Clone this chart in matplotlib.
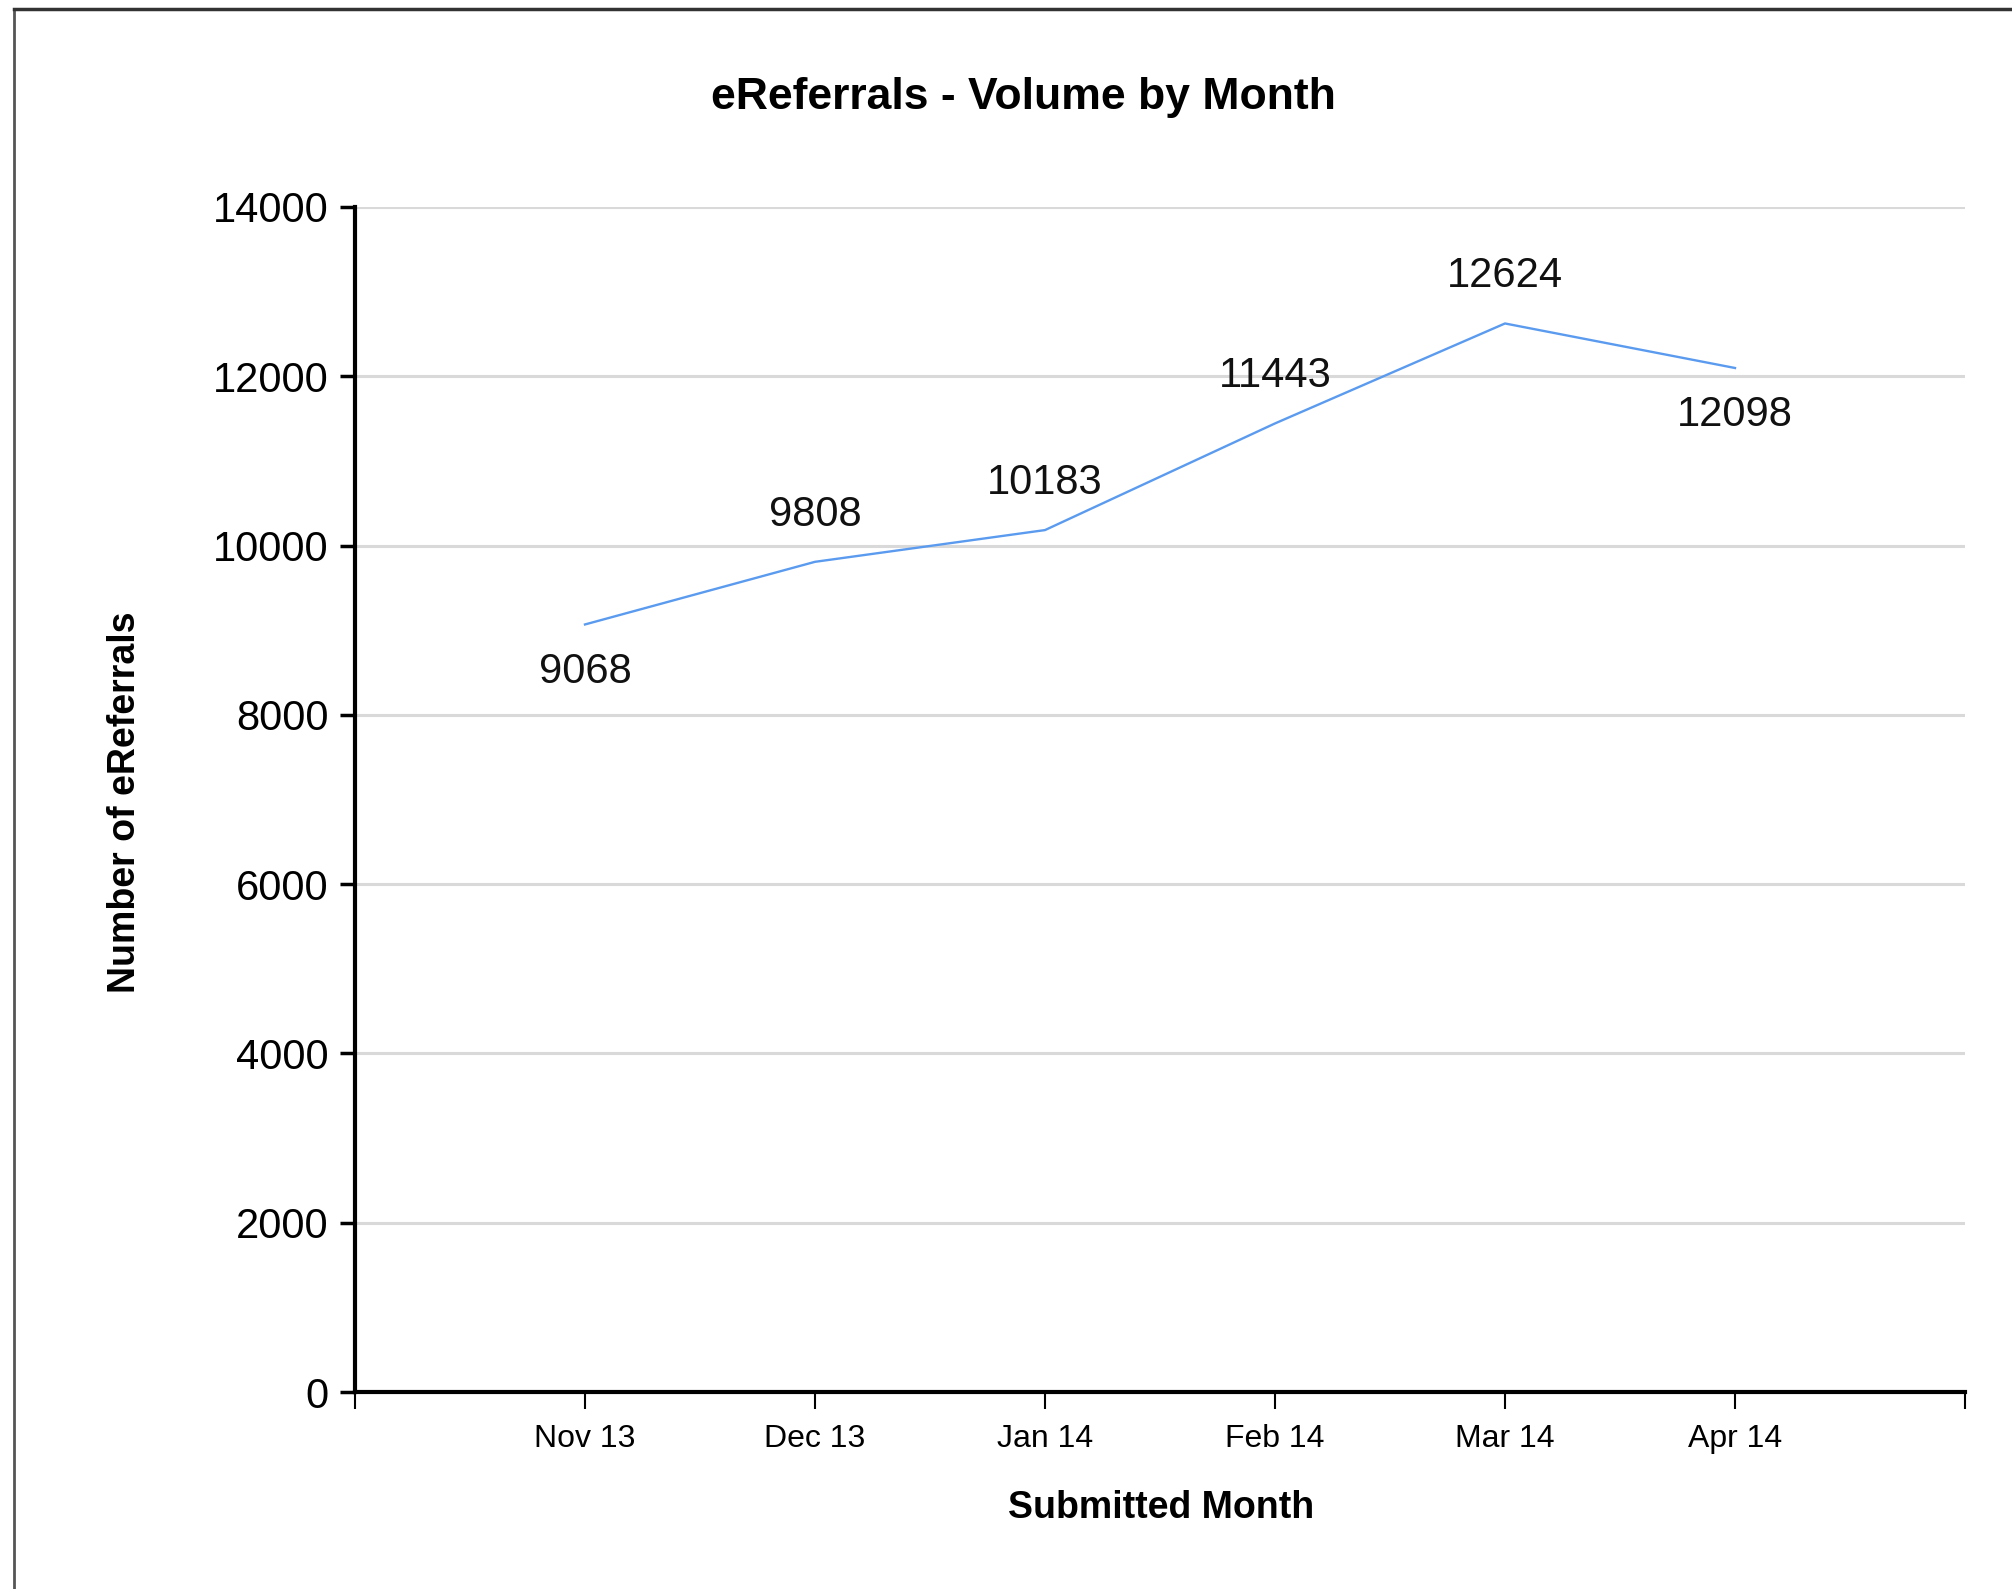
import matplotlib
matplotlib.use("Agg")
import matplotlib.pyplot as plt
from matplotlib.lines import Line2D
import numpy as np

months = ["Nov 13", "Dec 13", "Jan 14", "Feb 14", "Mar 14", "Apr 14"]
volumes = [9068, 9808, 10183, 11443, 12624, 12098]
y_ticks = [0, 2000, 4000, 6000, 8000, 10000, 12000, 14000]

# which value labels sit under the line instead of over it
below = [True, False, False, False, False, True]

plt.rcParams['font.family'] = ['Liberation Sans', 'DejaVu Sans']

W, H = 2012, 1589
fig = plt.figure(figsize=(W / 100, H / 100), dpi=100)
# axes box in pixels: left 355, right 1965, top 207, bottom 1392
ax = fig.add_axes([355 / W, 1 - 1392 / H, (1965 - 355) / W, (1392 - 207) / H])

x = np.arange(1, len(months) + 1)
ax.plot(x, volumes, color='#5b9bef', lw=1.7)

for xi, v, b in zip(x, volumes, below):
    off = -34 if b else 34
    ax.annotate(str(v), (xi, v), xytext=(0, off), textcoords='offset points',
                ha='center', va='center', fontsize=30, color='#111111')

ax.set_xlim(0, len(months) + 1)
ax.set_ylim(0, 14000)
ax.set_yticks(y_ticks)
ax.set_yticklabels([str(t) for t in y_ticks], fontsize=30)
ax.set_xticks(np.arange(0, len(months) + 2))
ax.set_xticklabels([""] + months + [""], fontsize=23)

ax.grid(axis='y', color='#d9d9d9', lw=2.2)
ax.set_axisbelow(True)
for s in ['top', 'right']:
    ax.spines[s].set_visible(False)
ax.spines['left'].set_linewidth(3)
ax.spines['bottom'].set_linewidth(3)
ax.tick_params(axis='y', length=11, width=2.5, pad=8)
ax.tick_params(axis='x', length=12, width=1.5, pad=11)

fig.text(1161 / W, 1 - 1508 / H, "Submitted Month", fontsize=27, fontweight='bold',
         ha='center', va='center')
fig.text(125 / W, 1 - 802 / H, "Number of eReferrals", fontsize=27, fontweight='bold',
         ha='center', va='center', rotation=90)
fig.text(1023 / W, 1 - 97 / H, "eReferrals - Volume by Month", fontsize=32,
         fontweight='bold', ha='center', va='center')

# outer frame (only the left and top edges show)
fig.add_artist(Line2D([14 / W, 14 / W], [0, 1 - 9 / H], transform=fig.transFigure,
                      color='#555555', lw=2))
fig.add_artist(Line2D([14 / W, 1], [1 - 9 / H, 1 - 9 / H], transform=fig.transFigure,
                      color='#333333', lw=2.5))

fig.savefig("out.png", dpi=100)
